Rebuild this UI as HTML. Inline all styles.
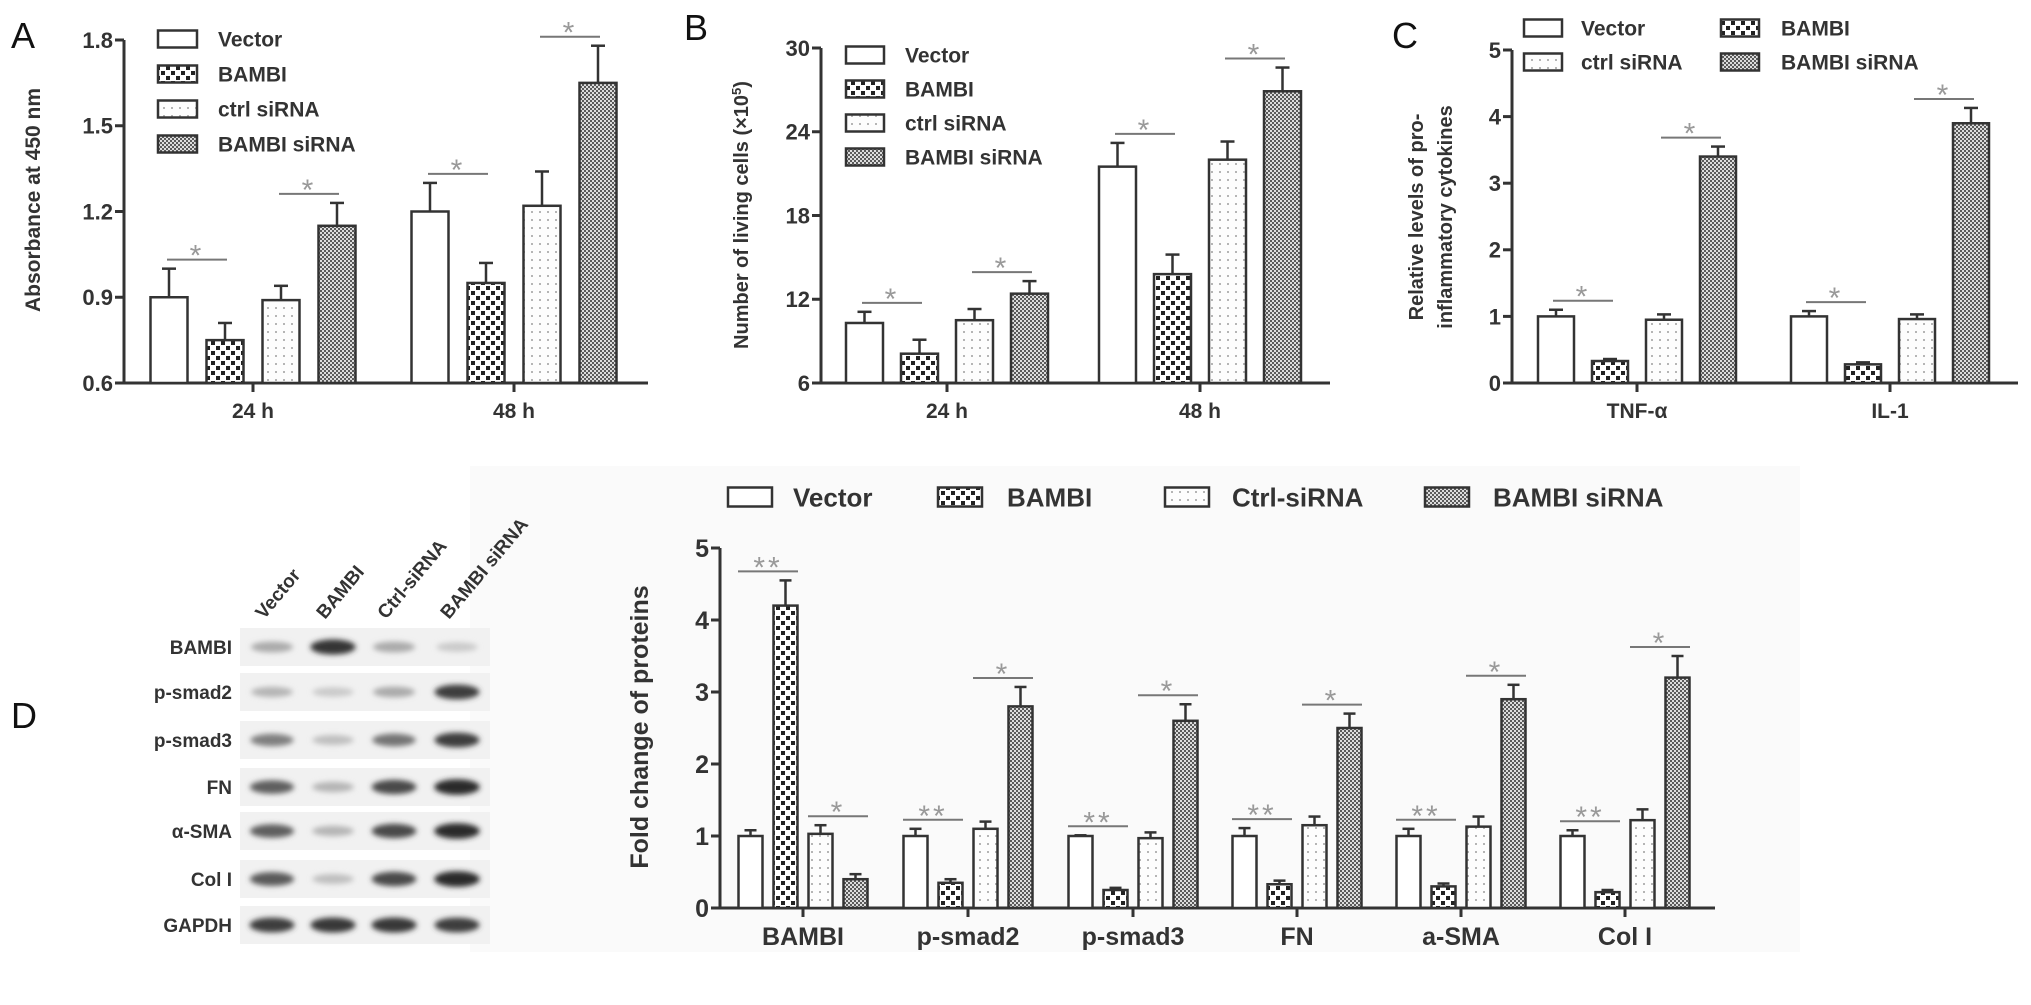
<!DOCTYPE html>
<html><head><meta charset="utf-8"><style>
html,body{margin:0;padding:0;background:#fff;}
svg{display:block;font-family:"Liberation Sans",Arial,sans-serif;}
</style></head><body>
<svg id="fig" xmlns="http://www.w3.org/2000/svg" width="2031" height="1005" viewBox="0 0 2031 1005">
<defs>
<pattern id="pBambi" width="10" height="10" patternUnits="userSpaceOnUse"><rect width="10" height="10" fill="#fff"/><rect x="1" y="1" width="4" height="4" fill="#222"/><rect x="6" y="6" width="4" height="4" fill="#222"/></pattern>
<pattern id="pCtrl" width="8" height="8" patternUnits="userSpaceOnUse"><rect width="8" height="8" fill="#fdfdfd"/><rect x="3" y="3" width="2" height="2" fill="#b5b5b5"/></pattern>
<pattern id="pSi" width="4" height="4" patternUnits="userSpaceOnUse"><rect width="4" height="4" fill="#5a5a5a"/><rect x="0" y="0" width="2" height="2" fill="#dcdcdc"/><rect x="2" y="2" width="2" height="2" fill="#dcdcdc"/></pattern>
<filter id="blur" x="-30%" y="-80%" width="160%" height="260%"><feGaussianBlur stdDeviation="2.6"/></filter>
</defs>
<rect x="470" y="466" width="1330" height="486" fill="#fafafa"/>
<g id="root"></g>
</svg>
<script>
// ---------- Panel A data ----------
const aCategories = ["24 h", "48 h"];
const aVector = [0.90, 1.20];
const aVectorErr = [1.00, 1.30];
const aBambi = [0.75, 0.95];
const aBambiErr = [0.81, 1.02];
const aCtrl = [0.89, 1.22];
const aCtrlErr = [0.94, 1.34];
const aSi = [1.15, 1.65];
const aSiErr = [1.23, 1.78];
const aTicks = [0.6, 0.9, 1.2, 1.5, 1.8];
const aTickLabels = ["0.6", "0.9", "1.2", "1.5", "1.8"];

// ---------- Panel B data ----------
const bCategories = ["24 h", "48 h"];
const bVector = [10.3, 21.5];
const bVectorErr = [11.1, 23.2];
const bBambi = [8.1, 13.8];
const bBambiErr = [9.1, 15.2];
const bCtrl = [10.5, 22.0];
const bCtrlErr = [11.3, 23.3];
const bSi = [12.4, 26.9];
const bSiErr = [13.3, 28.6];
const bTicks = [6, 12, 18, 24, 30];
const bTickLabels = ["6", "12", "18", "24", "30"];

// ---------- Panel C data ----------
const cCategories = ["TNF-\u03b1", "IL-1"];
const cVector = [1.00, 1.00];
const cVectorErr = [1.10, 1.08];
const cBambi = [0.33, 0.28];
const cBambiErr = [0.36, 0.31];
const cCtrl = [0.95, 0.96];
const cCtrlErr = [1.03, 1.03];
const cSi = [3.40, 3.90];
const cSiErr = [3.55, 4.13];
const cTicks = [0, 1, 2, 3, 4, 5];
const cTickLabels = ["0", "1", "2", "3", "4", "5"];

// ---------- Panel D data ----------
const dCategories = ["BAMBI", "p-smad2", "p-smad3", "FN", "a-SMA", "Col I"];
const dVector = [1.00, 1.00, 1.00, 1.00, 1.00, 1.00];
const dVectorErr = [1.08, 1.10, 1.01, 1.11, 1.10, 1.08];
const dBambi = [4.20, 0.35, 0.25, 0.33, 0.30, 0.22];
const dBambiErr = [4.55, 0.40, 0.28, 0.38, 0.34, 0.25];
const dCtrl = [1.03, 1.10, 0.97, 1.15, 1.13, 1.22];
const dCtrlErr = [1.15, 1.20, 1.05, 1.27, 1.27, 1.37];
const dSi = [0.40, 2.80, 2.60, 2.50, 2.90, 3.20];
const dSiErr = [0.47, 3.07, 2.83, 2.70, 3.10, 3.50];
const dTicks = [0, 1, 2, 3, 4, 5];
const dTickLabels = ["0", "1", "2", "3", "4", "5"];

// ---------- Western blot data (band darkness 0..1) ----------
const blotRows = ["BAMBI", "p-smad2", "p-smad3", "FN", "\u03b1-SMA", "Col I", "GAPDH"];
const blotLanes = ["Vector", "BAMBI", "Ctrl-siRNA", "BAMBI siRNA"];
const blotBAMBI = [0.35, 0.9, 0.35, 0.2];
const blotPsmad2 = [0.3, 0.2, 0.35, 0.85];
const blotPsmad3 = [0.55, 0.25, 0.6, 0.85];
const blotFN = [0.7, 0.3, 0.8, 0.95];
const blotSMA = [0.7, 0.3, 0.8, 0.95];
const blotCol = [0.72, 0.25, 0.8, 0.95];
const blotGAPDH = [0.85, 0.88, 0.88, 0.85];

const NS = "http://www.w3.org/2000/svg";
const root = document.getElementById("root");
function mk(tag, attrs, parent) {
  const e = document.createElementNS(NS, tag);
  for (const k in attrs) e.setAttribute(k, attrs[k]);
  (parent || root).appendChild(e);
  return e;
}
const INK = "#333";
const fills = ["#fff", "url(#pBambi)", "url(#pCtrl)", "url(#pSi)"];
const seriesNames = ["vector", "bambi", "ctrl-sirna", "bambi-sirna"];

function drawPanel(p) {
  const g = mk("g", {});
  
  
  const y = v => p.yBase - (v - p.vMin) / (p.vMax - p.vMin) * (p.yBase - p.yTop);
  // axes
  const ya = mk("line", {x1: p.axX, y1: y(p.vMax), x2: p.axX, y2: p.yBase, stroke: INK, "stroke-width": 3}, g);
  
  
  const xa = mk("line", {x1: p.axX - 1.5, y1: p.yBase, x2: p.axEnd, y2: p.yBase, stroke: INK, "stroke-width": 3}, g);
  
  
  p.ticks.forEach((t, i) => {
    mk("line", {x1: p.axX - 9, y1: y(t), x2: p.axX, y2: y(t), stroke: INK, "stroke-width": 3}, g);
    const tl = mk("text", {x: p.axX - 11, y: y(t) + p.tickFs * 0.36, "text-anchor": "end", "font-size": p.tickFs, "font-weight": "bold", fill: INK}, g);
    tl.textContent = p.tickLabels[i];
    
    
  });
  // bars
  p.cats.forEach((c, ci) => {
    const cx = p.centers[ci];
    mk("line", {x1: cx, y1: p.yBase, x2: cx, y2: p.yBase + 9, stroke: INK, "stroke-width": 3}, g);
    const cl = mk("text", {x: cx, y: p.yBase + p.catDy, "text-anchor": "middle", "font-size": p.catFs, "font-weight": "bold", fill: INK}, g);
    cl.textContent = c;
    
    
    const tops = [];
    p.series.forEach((s, si) => {
      const bx = cx + (si - 1.5) * p.pitch - p.bw / 2;
      const bc = bx + p.bw / 2;
      const top = y(s[ci]);
      const et = y(p.errs[si][ci]);
      tops.push({bc, et});
      const el = mk("line", {x1: bc, y1: top, x2: bc, y2: et, stroke: INK, "stroke-width": 2.5}, g);
      
      
      mk("line", {x1: bc - p.cap, y1: et, x2: bc + p.cap, y2: et, stroke: INK, "stroke-width": 2.5}, g);
      const r = mk("rect", {x: bx, y: top, width: p.bw, height: p.yBase - top, fill: fills[si], stroke: INK, "stroke-width": 2.5}, g);
      
      
    });
    // significance
    [[0, 1], [2, 3]].forEach((pr, k) => {
      const a = tops[pr[0]], b = tops[pr[1]];
      const ly = Math.min(a.et, b.et) - 9;
      const mid = (a.bc + b.bc) / 2;
      const sl = mk("line", {x1: mid - 30, y1: ly, x2: mid + 30, y2: ly, stroke: "#777", "stroke-width": 2}, g);
      
      
      const st = mk("text", {x: mid, y: ly + 6, "text-anchor": "middle", "font-size": 30, fill: "#999", "letter-spacing": 3}, g);
      st.textContent = (p.double && k === 0) ? "**" : "*";
      
      
    });
  });
  // axis title
  p.titles.forEach(tt => {
    const t = mk("text", {x: tt.x, y: tt.y, "text-anchor": "middle", "font-size": p.titleFs, "font-weight": "bold", fill: INK, transform: `rotate(-90 ${tt.x} ${tt.y})`}, g);
    if (tt.sup) {
      t.appendChild(document.createTextNode(tt.text));
      const s = mk("tspan", {"baseline-shift": "super", "font-size": p.titleFs * 0.65}, t);
      s.textContent = "5";
      t.appendChild(document.createTextNode(")"));
    } else t.textContent = tt.text;
    
    
  });
  // legend
  p.legend.forEach((l, i) => {
    const box = mk("rect", {x: l.x, y: l.y - l.h / 2, width: l.w, height: l.h, fill: fills[i], stroke: INK, "stroke-width": 2.5}, g);
    
    
    const t = mk("text", {x: l.tx, y: l.y + p.legFs * 0.36, "font-size": p.legFs, "font-weight": "bold", fill: INK}, g);
    t.textContent = l.label;
    
    
  });
  // panel letter
  const pl = mk("text", {x: p.letterX, y: p.letterY, "font-size": 36, fill: "#111"}, g);
  pl.textContent = p.letter;
  
  
}

const labels4 = ["Vector", "BAMBI", "ctrl siRNA", "BAMBI siRNA"];
function stackLegend(x, tx, y0, dy, w, h) { return labels4.map((lb, i) => ({x, tx, y: y0 + i * dy, w, h, label: lb})); }

drawPanel({name: "panel-a-chart", letter: "A", letterX: 11, letterY: 48,
  yBase: 383, yTop: 40, vMin: 0.6, vMax: 1.8, axX: 124, axEnd: 648,
  ticks: aTicks, tickLabels: aTickLabels, tickFs: 22,
  cats: aCategories, centers: [253, 514], pitch: 56, bw: 37, cap: 7,
  series: [aVector, aBambi, aCtrl, aSi], errs: [aVectorErr, aBambiErr, aCtrlErr, aSiErr],
  catFs: 21, catDy: 35, titleFs: 21, titles: [{x: 40, y: 200, text: "Absorbance at 450 nm"}],
  legend: stackLegend(158, 218, 39, 35, 39, 17), legFs: 21, double: false});

drawPanel({name: "panel-b-chart", letter: "B", letterX: 684, letterY: 40,
  yBase: 383, yTop: 48, vMin: 6, vMax: 30, axX: 821, axEnd: 1330,
  ticks: bTicks, tickLabels: bTickLabels, tickFs: 22,
  cats: bCategories, centers: [947, 1200], pitch: 55, bw: 37, cap: 7,
  series: [bVector, bBambi, bCtrl, bSi], errs: [bVectorErr, bBambiErr, bCtrlErr, bSiErr],
  catFs: 21, catDy: 35, titleFs: 20, titles: [{x: 748, y: 215, text: "Number of living cells (\u00d710", sup: true}],
  legend: stackLegend(846, 905, 55, 34, 38, 17), legFs: 21, double: false});

drawPanel({name: "panel-c-chart", letter: "C", letterX: 1392, letterY: 48,
  yBase: 383, yTop: 50, vMin: 0, vMax: 5, axX: 1512, axEnd: 2018,
  ticks: cTicks, tickLabels: cTickLabels, tickFs: 22,
  cats: cCategories, centers: [1637, 1890], pitch: 54, bw: 36, cap: 7,
  series: [cVector, cBambi, cCtrl, cSi], errs: [cVectorErr, cBambiErr, cCtrlErr, cSiErr],
  catFs: 21, catDy: 35, titleFs: 20,
  titles: [{x: 1423, y: 217, text: "Relative  levels of  pro-"}, {x: 1452, y: 217, text: "inflammatory cytokines"}],
  legend: [
    {x: 1524, tx: 1581, y: 28, w: 38, h: 17, label: "Vector"},
    {x: 1721, tx: 1781, y: 28, w: 38, h: 17, label: "BAMBI"},
    {x: 1524, tx: 1581, y: 62, w: 38, h: 17, label: "ctrl siRNA"},
    {x: 1721, tx: 1781, y: 62, w: 38, h: 17, label: "BAMBI siRNA"}], legFs: 21, double: false});

drawPanel({name: "panel-d-chart", letter: "D", letterX: 11, letterY: 728,
  yBase: 908, yTop: 548, vMin: 0, vMax: 5, axX: 720, axEnd: 1715,
  ticks: dTicks, tickLabels: dTickLabels, tickFs: 25,
  cats: dCategories, centers: [803, 968, 1133, 1297, 1461, 1625], pitch: 35, bw: 24, cap: 6,
  series: [dVector, dBambi, dCtrl, dSi], errs: [dVectorErr, dBambiErr, dCtrlErr, dSiErr],
  catFs: 25, catDy: 37, titleFs: 25, titles: [{x: 648, y: 727, text: "Fold change of proteins"}],
  legend: [
    {x: 728, tx: 793, y: 497, w: 44, h: 19, label: "Vector"},
    {x: 938, tx: 1007, y: 497, w: 44, h: 19, label: "BAMBI"},
    {x: 1165, tx: 1232, y: 497, w: 44, h: 19, label: "Ctrl-siRNA"},
    {x: 1425, tx: 1493, y: 497, w: 44, h: 19, label: "BAMBI siRNA"}], legFs: 26, double: true});

// ---------- Western blot ----------
const blotData = [blotBAMBI, blotPsmad2, blotPsmad3, blotFN, blotSMA, blotCol, blotGAPDH];
const rowY = [647, 692, 740, 787, 831, 879, 925];
const laneX = [272, 333, 394, 457];
const wb = mk("g", {});


blotRows.forEach((rn, ri) => {
  const cy = rowY[ri];
  const strip = mk("rect", {x: 240, y: cy - 19, width: 250, height: 38, fill: "#f1f1f1"}, wb);
  
  
  blotData[ri].forEach((d, li) => {
    const gv = Math.round(245 - d * 215);
    const band = mk("ellipse", {cx: laneX[li], cy: cy, rx: 20 + d * 3, ry: 4 + d * 4, fill: `rgb(${gv},${gv},${gv})`, filter: "url(#blur)"}, wb);
    
    
  });
  const t = mk("text", {x: 232, y: cy + 7, "text-anchor": "end", "font-size": 19, "font-weight": "bold", fill: INK}, wb);
  t.textContent = rn;
  
  
});
blotLanes.forEach((ln, li) => {
  const x = laneX[li] - 8, y = 620;
  const t = mk("text", {x: x, y: y, "font-size": 19, "font-weight": "bold", fill: INK, transform: `rotate(-50 ${x} ${y})`}, wb);
  t.textContent = ln;
  
  
});
</script>
</body></html>
